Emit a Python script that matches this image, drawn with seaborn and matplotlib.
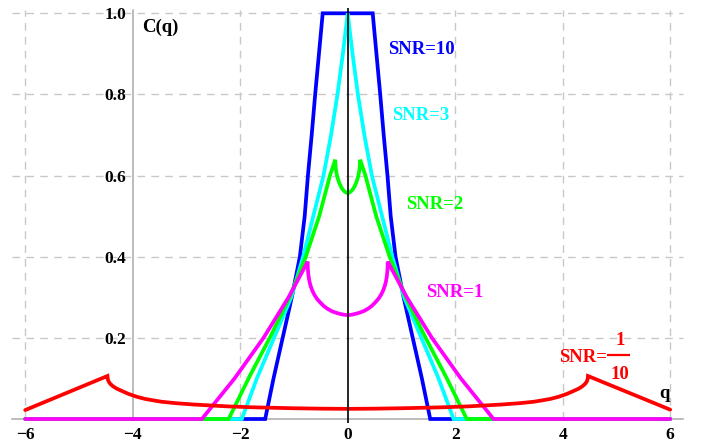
import numpy as np
import pandas as pd
import matplotlib
matplotlib.use("Agg")
import matplotlib.pyplot as plt
import seaborn as sns

# ---------------- data ----------------
q_snr10 = [-6, -1.535, -1.38, -1.21, -1.04, -0.89, -0.80, -0.74, -0.67, -0.605, -0.535, -0.465,
           0.465, 0.535, 0.605, 0.67, 0.74, 0.80, 0.89, 1.04, 1.21, 1.38, 1.535, 6]
c_snr10 = [0, 0, 0.1, 0.2, 0.3, 0.4, 0.5, 0.6, 0.7, 0.8, 0.9, 1.0,
           1.0, 0.9, 0.8, 0.7, 0.6, 0.5, 0.4, 0.3, 0.2, 0.1, 0, 0]

q_snr3 = [-6, -1.97, -1.69, -1.37, -1.05, -0.83, -0.64, -0.45, -0.31, -0.19, -0.09, 0,
          0.09, 0.19, 0.31, 0.45, 0.64, 0.83, 1.05, 1.37, 1.69, 1.97, 6]
c_snr3 = [0, 0, 0.1, 0.2, 0.3, 0.4, 0.5, 0.6, 0.7, 0.8, 0.9, 1.0,
          0.9, 0.8, 0.7, 0.6, 0.5, 0.4, 0.3, 0.2, 0.1, 0, 0]

q_snr2 = [-6, -2.215, -1.845, -1.45, -1.08, -0.78, -0.53, -0.33, -0.232,
          -0.228, -0.22, -0.205, -0.185, -0.16, -0.13, -0.095, -0.06, -0.03, 0,
          0.03, 0.06, 0.095, 0.13, 0.16, 0.185, 0.205, 0.22, 0.228,
          0.232, 0.33, 0.53, 0.78, 1.08, 1.45, 1.845, 2.215, 6]
c_snr2 = [0, 0, 0.1, 0.2, 0.3, 0.4, 0.5, 0.6, 0.639,
          0.628, 0.616, 0.604, 0.593, 0.583, 0.574, 0.566, 0.561, 0.558, 0.557,
          0.558, 0.561, 0.566, 0.574, 0.583, 0.593, 0.604, 0.616, 0.628,
          0.639, 0.6, 0.5, 0.4, 0.3, 0.2, 0.1, 0, 0]

q_snr1 = [-6, -2.713, -2.105, -1.566, -1.10, -0.745,
          -0.742, -0.735, -0.725, -0.71, -0.69, -0.66, -0.62, -0.57, -0.51, -0.45, -0.38, -0.30, -0.22, -0.14, -0.07, 0,
          0.07, 0.14, 0.22, 0.30, 0.38, 0.45, 0.51, 0.57, 0.62, 0.66, 0.69, 0.71, 0.725, 0.735, 0.742,
          0.745, 1.10, 1.566, 2.105, 2.713, 6]
c_snr1 = [0, 0, 0.1, 0.2, 0.3, 0.388,
          0.372, 0.360, 0.349, 0.338, 0.328, 0.317, 0.306, 0.296, 0.287, 0.279, 0.272, 0.266, 0.262, 0.259, 0.257, 0.256,
          0.257, 0.259, 0.262, 0.266, 0.272, 0.279, 0.287, 0.296, 0.306, 0.317, 0.328, 0.338, 0.349, 0.360, 0.372,
          0.388, 0.3, 0.2, 0.1, 0, 0]

q_snr01 = [-6, -4.47, -4.465, -4.45, -4.42, -4.37, -4.30, -4.2, -4.08, -3.93, -3.77, -3.6, -3.46, -3.2,
           -2.84, -2.5, -2.22, -1.8, -1.5, -1.0, -0.5, 0,
           0.5, 1.0, 1.5, 1.8, 2.22, 2.5, 2.84,
           3.2, 3.46, 3.6, 3.77, 3.93, 4.08, 4.2, 4.30, 4.37, 4.42, 4.45, 4.465, 4.47, 6]
c_snr01 = [0.022, 0.106, 0.099, 0.093, 0.087, 0.081, 0.075, 0.069, 0.062, 0.055, 0.0495, 0.0455, 0.0425, 0.039,
           0.0355, 0.033, 0.031, 0.029, 0.028, 0.0265, 0.0255, 0.025,
           0.0255, 0.0265, 0.028, 0.029, 0.031, 0.033, 0.0355,
           0.039, 0.0425, 0.0455, 0.0495, 0.055, 0.062, 0.069, 0.075, 0.081, 0.087, 0.093, 0.099, 0.106, 0.023]

snr_names = ["10", "3", "2", "1", "1/10"]
snr_colors = ["#0000ff", "#00ffff", "#00ff00", "#ff00ff", "#ff0000"]

x_ticks = [-6, -4, -2, 0, 2, 4, 6]
x_tick_labels = ["\u22126", "\u22124", "\u22122", "0", "2", "4", "6"]
y_ticks = [0.2, 0.4, 0.6, 0.8, 1.0]
y_tick_labels = ["0.2", "0.4", "0.6", "0.8", "1.0"]

# ---------------- build table ----------------
frames = []
for name, qs, cs in zip(snr_names,
                        [q_snr10, q_snr3, q_snr2, q_snr1, q_snr01],
                        [c_snr10, c_snr3, c_snr2, c_snr1, c_snr01]):
    frames.append(pd.DataFrame({"q": qs, "C": cs, "SNR": name}))
df = pd.concat(frames, ignore_index=True)

# ---------------- style ----------------
sns.set_style("white")
plt.rcParams["font.family"] = ["Liberation Serif", "DejaVu Serif"]
plt.rcParams["font.weight"] = "bold"

fig = plt.figure(figsize=(7.02, 4.43), dpi=100)
ax = fig.add_axes([0, 0, 1, 1])
ax.set_facecolor("white")

# pixel geometry of the reference: x=0 at px 347.7, 53.75 px/unit ; y=0 at py 419, 405.7 px/unit
X0, SX, Y0, SY = 347.7, 53.75, 419.0, 405.7
ax.set_xlim(-X0 / SX, (702 - X0) / SX)
ax.set_ylim((Y0 - 443) / SY, Y0 / SY)
xl, xr = (12 - X0) / SX, (683 - X0) / SX
ytop = (Y0 - 10) / SY

# grid
grid_kw = dict(color="#c8c8c8", lw=1.0, linestyles=(0, (5.5, 4.5)), zorder=0.5)
ax.hlines(y_ticks, xl, xr, **grid_kw)
ax.vlines([-6, -2, 2, 4, 6], 0, ytop, **grid_kw)

# curves
sns.lineplot(data=df, x="q", y="C", hue="SNR", hue_order=snr_names,
             palette=snr_colors, sort=False, estimator=None, legend=False,
             lw=2.7, ax=ax, zorder=3)
for ln in ax.get_lines():
    ln.set_solid_joinstyle("miter")

# axes
for s in ["top", "right"]:
    ax.spines[s].set_visible(False)
ax.spines["left"].set_position(("data", -4))
ax.spines["bottom"].set_position(("data", 0))
ax.spines["left"].set_bounds(0, ytop)
ax.spines["bottom"].set_bounds(xl, xr)
for s in ["left", "bottom"]:
    ax.spines[s].set_color("#aaaaaa")
    ax.spines[s].set_linewidth(1.1)
    ax.spines[s].set_zorder(2)

ax.set_xticks(x_ticks)
ax.set_xticklabels(x_tick_labels)
ax.set_yticks(y_ticks)
ax.set_yticklabels(y_tick_labels)
ax.set_xticks(np.arange(-6, 6.01, 0.5), minor=True)
ax.set_yticks(np.arange(0, 1.001, 0.05), minor=True)
ax.tick_params(which="major", direction="in", length=3.0, width=0.8, color="#999999",
               labelsize=12.5, labelcolor="black")
ax.tick_params(which="minor", direction="in", length=1.6, width=0.6, color="#999999")
ax.tick_params(axis="y", which="major", pad=4.5)
ax.tick_params(axis="x", which="major", pad=5.5)
for lab in ax.get_xticklabels() + ax.get_yticklabels():
    lab.set_fontweight("bold")
ax.set_xlabel("")
ax.set_ylabel("")

# black line at q = 0
ax.vlines(0, (Y0 - 423) / SY, (Y0 - 8) / SY, color="black", lw=1.2, zorder=6)

# labels
ax.text(-3.833, 0.955, "C(q)", fontsize=13.5, fontweight="bold", color="black", va="baseline", ha="left")
ax.text(5.885, 0.052, "q", fontsize=13.5, fontweight="bold", color="black", va="baseline", ha="center")

lab_kw = dict(fontsize=13.5, fontweight="bold", va="baseline", ha="left")
ax.text(0.744, 0.900, "SNR=10", color=snr_colors[0], **lab_kw)
ax.text(0.819, 0.737, "SNR=3", color=snr_colors[1], **lab_kw)
ax.text(1.079, 0.517, "SNR=2", color=snr_colors[2], **lab_kw)
ax.text(1.457, 0.300, "SNR=1", color=snr_colors[3], **lab_kw)
ax.text(3.93, 0.141, "SNR=", color=snr_colors[4], **lab_kw)
ax.text(5.066, 0.182, "1", color=snr_colors[4], fontsize=13.5, fontweight="bold", va="baseline", ha="center")
ax.text(5.066, 0.098, "10", color=snr_colors[4], fontsize=13.5, fontweight="bold", va="baseline", ha="center")
ax.hlines(0.157, (606.7 - X0) / SX, (630 - X0) / SX, color=snr_colors[4], lw=1.6)

fig.savefig("out.png", dpi=100, facecolor="white")
